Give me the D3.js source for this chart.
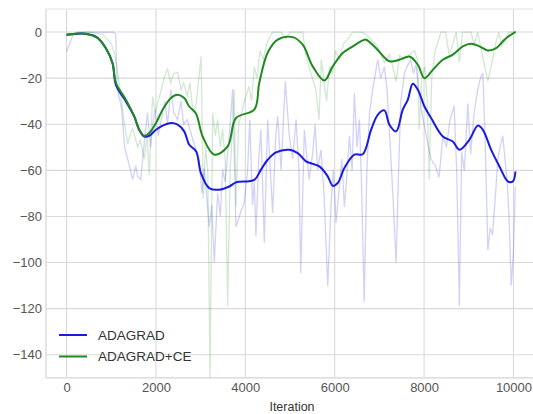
<!DOCTYPE html>
<html>
<head>
<meta charset="utf-8">
<script src="https://cdn.jsdelivr.net/npm/d3@7"></script>
<style>
  html, body { margin: 0; padding: 0; background: #fff; }
  svg { display: block; font-family: "Liberation Sans", Arial, sans-serif; }
</style>
</head>
<body>
<svg id="chart" width="533" height="414"></svg>
<script>
// ---------- data ----------
const xTicks = [0, 2000, 4000, 6000, 8000, 10000];
const yTicks = [0, -20, -40, -60, -80, -100, -120, -140];
const xDomain = [-460, 10540];
const yDomain = [-150, 10];
const seriesNames = ["ADAGRAD", "ADAGRAD+CE"];

// ADAGRAD smoothed
const adaSmoothX = [0,200,400,600,700,880,1030,1104,1328,1514,1626,1738,1850,2000,2150,2335,2485,2633,2745,2900,3007,3193,3417,3641,3791,4201,4350,4500,4687,4985,5172,5358,5657,5844,5956,6068,6216,6440,6628,6814,6963,7112,7225,7374,7523,7635,7747,7860,8009,8157,8419,8643,8791,9015,9203,9315,9501,9687,9874,9986,10045];
const adaSmoothY = [-1.2,-0.8,-0.7,-1.5,-2.6,-7,-13.5,-22.9,-30.1,-36.6,-42.4,-45.3,-45,-42.4,-40.6,-39.5,-40.2,-43.1,-48.9,-51.8,-61.2,-67.7,-68.4,-67,-65.2,-64.1,-59.7,-55.4,-52.2,-51.1,-52.5,-56.1,-58.3,-62.6,-66.7,-65.5,-59,-53.2,-53,-42.4,-35.9,-34,-40.2,-43.1,-33.7,-29.4,-22.4,-25,-32.3,-37.3,-45.3,-47.5,-51.1,-46.7,-40.6,-42.4,-51.1,-58.3,-64.8,-64.8,-60.5];

// ADAGRAD+CE smoothed
const ceSmoothX = [0,432,694,880,1030,1104,1328,1514,1626,1738,1850,2000,2150,2335,2485,2633,2745,2895,3045,3305,3605,3791,4201,4313,4500,4724,5060,5284,5508,5768,5956,6180,6404,6628,6702,6926,7225,7448,7672,7860,8009,8195,8419,8643,8867,9053,9239,9427,9613,9798,10022,10050];
const ceSmoothY = [-1.2,-0.7,-2.6,-7,-13.5,-22,-29.4,-36.6,-42.4,-45,-43.8,-39.5,-33.7,-28.6,-27.2,-28.6,-32.3,-35.3,-45.3,-53.2,-49.6,-37.3,-33.7,-22,-9,-3.3,-2.2,-5.5,-14.9,-21,-14.9,-9.1,-6.2,-3.6,-3.3,-7,-12.7,-12,-10.6,-14.2,-20,-16.4,-12,-9.8,-6.2,-5.1,-6.2,-8,-7,-3.3,-0.2,0];

// ADAGRAD raw
const adaRawX = [0,150,250,500,800,1050,1100,1130,1230,1300,1380,1480,1550,1590,1660,1738,1810,1880,1930,1980,2050,2120,2200,2260,2335,2400,2485,2560,2620,2700,2800,2880,2970,3030,3081,3140,3193,3250,3305,3380,3440,3492,3550,3605,3660,3717,3791,3900,3977,4050,4100,4160,4200,4238,4300,4350,4425,4500,4560,4612,4680,4724,4800,4895,4985,5060,5135,5200,5240,5320,5380,5430,5508,5560,5620,5694,5760,5844,5920,5970,6030,6105,6160,6216,6280,6330,6390,6440,6500,6553,6600,6660,6720,6780,6850,6910,6963,7030,7112,7170,7230,7300,7374,7430,7480,7560,7620,7700,7760,7820,7880,7950,8009,8080,8150,8250,8336,8420,8500,8580,8672,8730,8790,8840,8900,8979,9040,9120,9200,9260,9315,9370,9427,9480,9530,9600,9650,9700,9760,9810,9860,9900,9950,10000,10040];
const adaRawY = [-8.5,-1,0,0,0,0,-1,-24,-33,-50,-56,-64,-58,-62.5,-64,-48,-35,-50,-40,-33.7,-45,-38,-30,-40,-25,-35,-38,-30,-40,-38,-45,-50,-56,-70,-59,-72,-84.5,-75,-100,-69.8,-80,-59.7,-65,-52.5,-40,-24.7,-84.5,-78,-74,-60,-38,-75,-65,-88.6,-55,-42.4,-91.4,-38,-60,-78.5,-45,-36.6,-59.7,-21.4,-45.3,-55,-38,-60,-104.5,-42.4,-55,-64,-52.5,-40,-59.7,-51,-70,-110,-74,-60,-82.8,-67,-55,-76,-60,-45,-60,-26.4,-50,-38,-65,-117,-60,-35,-25,-18,-12,-20,-15,-25,-45,-70,-100,-60,-30,-18,-15,-12,-18,-14,-25,-35,-41,-48,-55,-58,-63,-45,-50,-38,-32,-60,-119,-52,-60,-31,-53,-35,-25,-20,-17.8,-50,-94.5,-85,-88,-70,-55,-50,-45,-55,-65,-80,-110,-95,-67];

// ADAGRAD+CE raw
const ceRawX = [0,200,500,800,1000,1080,1140,1200,1280,1370,1430,1480,1540,1590,1650,1738,1800,1850,1925,1990,2050,2120,2180,2260,2330,2400,2485,2560,2620,2700,2760,2830,2900,2960,3010,3060,3110,3160,3210,3270,3330,3380,3440,3490,3550,3605,3660,3720,3753,3791,3850,3920,3980,4083,4140,4200,4260,4330,4400,4480,4550,4612,4700,4800,4900,5000,5100,5200,5284,5350,5420,5500,5580,5650,5700,5770,5820,5880,5950,6020,6100,6200,6300,6400,6500,6600,6700,6800,6926,7000,7112,7225,7300,7374,7450,7550,7672,7780,7850,7890,7950,8020,8070,8115,8170,8250,8380,8480,8560,8640,8720,8790,8860,8950,9050,9120,9200,9315,9427,9530,9600,9670,9740,9830,9900,10000,10050];
const ceRawY = [-1,-0.5,0,-1,-5,-10,-17,-25,-38,-48.6,-44,-42,-46,-50,-47,-55,-45,-62,-28,-35,-30,-25,-20,-16,-22,-18,-17.5,-25,-22,-28,-22,-35,-31,-20,-10.6,-72,-50,-60,-150,-35,-45,-38,-50,-42,-55,-119,-60,-40,-25,-75.6,-40,-35,-30,-23.6,-30,-15,-20,-8,-12,-5,-2,0,0,0,-3,0,0,0,0,-9.7,-15,-20,-25,-38,-12,-23,-30,-15,-18,-8,-12,-5,-3,0,0,0,-1,-3,-5.5,-8,-13.3,-9.8,-15,-21.4,-10,-12,-9.8,-8,-12,-42.4,-20,-15,-30,-64,-20,-8,0,0,-9.8,-5.5,0,-13,0,0,0,-5.5,0,-11,-21.4,-12,-5,0,-6,-3,0,0,0];

// ---------- layout ----------
const svg = d3.select("#chart");
const W = 533, H = 414;
const plot = { left: 46, top: 9, bottom: 377.8, right: 537.6 };

const x = d3.scaleLinear().domain(xDomain).range([plot.left, plot.right]);
const y = d3.scaleLinear().domain(yDomain).range([plot.bottom, plot.top]);

const gridColor = "#d9d9d9";
const textColor = "#555555";
const blue = "#1a1ae0";
const green = "#1f8a1f";

svg.append("rect").attr("width", W).attr("height", H).attr("fill", "#fff");

svg.append("clipPath").attr("id", "clip")
  .append("rect")
  .attr("x", plot.left).attr("y", plot.top)
  .attr("width", plot.right - plot.left).attr("height", plot.bottom - plot.top);

// grid
const grid = svg.append("g");
grid.selectAll("line.gx").data(xTicks).join("line")
  .attr("x1", d => x(d)).attr("x2", d => x(d))
  .attr("y1", plot.top).attr("y2", plot.bottom)
  .attr("stroke", gridColor).attr("stroke-width", 1.1);
grid.selectAll("line.gy").data(yTicks).join("line")
  .attr("x1", plot.left).attr("x2", plot.right)
  .attr("y1", d => y(d)).attr("y2", d => y(d))
  .attr("stroke", gridColor).attr("stroke-width", 1.1);

// spines
svg.append("line").attr("x1", plot.left).attr("x2", plot.left)
  .attr("y1", plot.top).attr("y2", plot.bottom).attr("stroke", "#d4d4d4").attr("stroke-width", 1.2);
svg.append("line").attr("x1", plot.left).attr("x2", plot.right)
  .attr("y1", plot.bottom).attr("y2", plot.bottom).attr("stroke", "#d4d4d4").attr("stroke-width", 1.2);
svg.append("line").attr("x1", plot.left).attr("x2", plot.right)
  .attr("y1", plot.top).attr("y2", plot.top).attr("stroke", "#e2e2e2").attr("stroke-width", 1);

// lines
const lineGen = (xs, ys, curve) => d3.line()
  .curve(curve || d3.curveLinear)
  .x((d, i) => x(xs[i]))
  .y((d, i) => y(ys[i]))(ys);

const lines = svg.append("g").attr("clip-path", "url(#clip)");
lines.append("path").attr("d", lineGen(adaRawX, adaRawY))
  .attr("fill", "none").attr("stroke", blue).attr("stroke-opacity", 0.2).attr("stroke-width", 1.3);
lines.append("path").attr("d", lineGen(ceRawX, ceRawY))
  .attr("fill", "none").attr("stroke", green).attr("stroke-opacity", 0.2).attr("stroke-width", 1.3);
lines.append("path").attr("d", lineGen(adaSmoothX, adaSmoothY, d3.curveCatmullRom.alpha(0.5)))
  .attr("fill", "none").attr("stroke", blue).attr("stroke-width", 2).attr("stroke-linejoin", "round");
lines.append("path").attr("d", lineGen(ceSmoothX, ceSmoothY, d3.curveCatmullRom.alpha(0.5)))
  .attr("fill", "none").attr("stroke", green).attr("stroke-width", 2).attr("stroke-linejoin", "round");

// axes labels
const xAxis = d3.axisBottom(x).tickValues(xTicks).tickFormat(d3.format("d")).tickSize(0).tickPadding(5);
const gx = svg.append("g").attr("transform", `translate(0,${plot.bottom})`).call(xAxis);
gx.select(".domain").remove();
gx.selectAll("text").attr("fill", textColor).style("font-size", "13px")
  .style("font-family", "'Liberation Sans', Arial, sans-serif");

const yAxis = d3.axisLeft(y).tickValues(yTicks).tickSize(0).tickPadding(4);
const gy = svg.append("g").attr("transform", `translate(${plot.left},0)`).call(yAxis);
gy.select(".domain").remove();
gy.selectAll("text").attr("fill", textColor).style("font-size", "13px")
  .style("font-family", "'Liberation Sans', Arial, sans-serif");

svg.append("text")
  .attr("x", 292).attr("y", 411)
  .attr("text-anchor", "middle")
  .attr("fill", "#333").style("font-size", "12.5px")
  .text("Iteration");

// legend
const legend = svg.append("g").attr("transform", "translate(59,335)");
const legColors = [blue, green];
seriesNames.forEach((name, i) => {
  const g = legend.append("g").attr("transform", `translate(0,${i * 21.5})`);
  g.append("line").attr("x1", 0).attr("x2", 28).attr("y1", 0).attr("y2", 0)
    .attr("stroke", legColors[i]).attr("stroke-width", 2);
  g.append("text").attr("x", 39).attr("y", 0).attr("dy", "0.35em")
    .attr("fill", "#333").style("font-size", "13.5px").text(name);
});
</script>
</body>
</html>
